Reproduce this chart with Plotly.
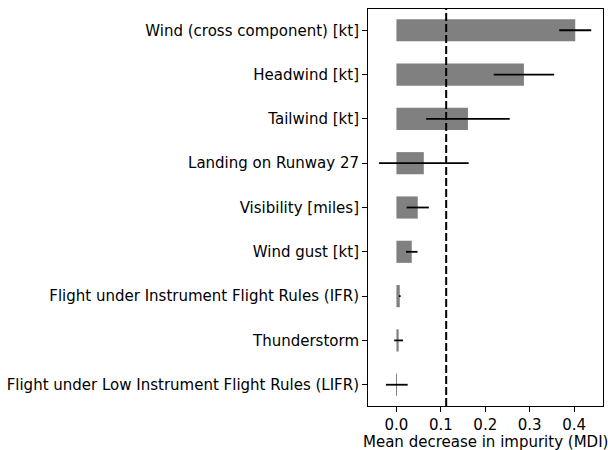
import plotly.graph_objects as go

# Feature importances (mean decrease in impurity) and their std across trees
features = [
    "Wind (cross component) [kt]",
    "Headwind [kt]",
    "Tailwind [kt]",
    "Landing on Runway 27",
    "Visibility [miles]",
    "Wind gust [kt]",
    "Flight under Instrument Flight Rules (IFR)",
    "Thunderstorm",
    "Flight under Low Instrument Flight Rules (LIFR)",
]
importance = [0.4025, 0.287, 0.161, 0.0616, 0.048, 0.0345, 0.0075, 0.005, 0.0008]
importance_std = [0.036, 0.068, 0.094, 0.101, 0.025, 0.013, 0.002, 0.010, 0.0245]

x_ticks = [0.0, 0.1, 0.2, 0.3, 0.4]
x_title = "Mean decrease in impurity (MDI)"

# most important feature on top
feat_order = features[::-1]
imp_order = importance[::-1]
std_order = importance_std[::-1]

threshold = sum(importance) / len(importance)

fig = go.Figure()
fig.add_trace(go.Bar(
    y=feat_order,
    x=imp_order,
    orientation="h",
    width=0.5,
    marker=dict(color="#808080", line=dict(width=0)),
    error_x=dict(type="data", array=std_order, visible=True,
                 color="black", thickness=1.8, width=0),
    showlegend=False,
))

fig.add_shape(type="line", xref="x", yref="paper",
              x0=threshold, x1=threshold, y0=0, y1=1,
              line=dict(color="black", width=2, dash="8px,3px"))

fig.add_annotation(text=x_title, xref="paper", yref="paper",
                   x=0.5, y=-0.09, xanchor="center", yanchor="middle",
                   showarrow=False, font=dict(size=15))

fig.update_layout(
    width=608, height=450,
    margin=dict(l=368, r=5, t=9, b=44),
    paper_bgcolor="white",
    plot_bgcolor="white",
    font=dict(family="DejaVu Sans", size=15, color="black"),
    bargap=0.5,
)
fig.update_xaxes(
    range=[-0.064, 0.465],
    tickvals=x_ticks,
    ticktext=[f"{v:.1f}" for v in x_ticks],
    ticks="outside", ticklen=5, tickwidth=1, tickcolor="black",
    showline=True, linecolor="black", linewidth=1, mirror=True,
    showgrid=False, zeroline=False, automargin=False,
    tickfont=dict(size=15),
)
fig.update_yaxes(
    categoryorder="array", categoryarray=feat_order,
    range=[-0.48, 8.48],
    ticks="outside", ticklen=5, tickwidth=1, tickcolor="black",
    showline=True, linecolor="black", linewidth=1, mirror=True,
    showgrid=False, zeroline=False, automargin=False,
    tickfont=dict(size=15),
)

fig.write_html("out.html")
